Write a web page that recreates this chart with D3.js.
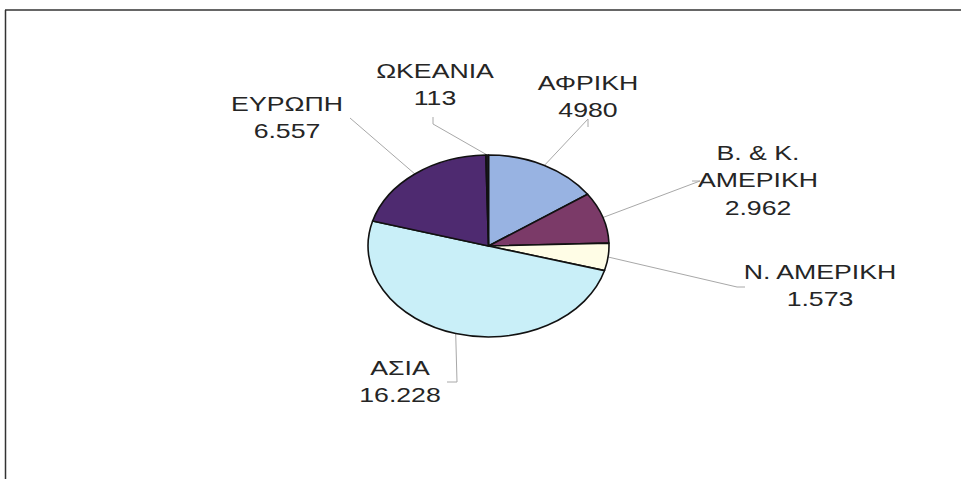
<!DOCTYPE html>
<html>
<head>
<meta charset="utf-8">
<script src="https://cdn.jsdelivr.net/npm/d3@7"></script>
<style>
  html, body { margin: 0; padding: 0; background: #fff; }
  svg { display: block; }
  text { font-family: "Liberation Sans", Arial, sans-serif; font-size: 21px; fill: #252525; }
</style>
</head>
<body>
<svg id="chart" width="961" height="479"></svg>
<script>
// ---- data ----
const categories = [
  ["ΑΦΡΙΚΗ"],
  ["Β. & Κ.", "ΑΜΕΡΙΚΗ"],
  ["Ν. ΑΜΕΡΙΚΗ"],
  ["ΑΣΙΑ"],
  ["ΕΥΡΩΠΗ"],
  ["ΩΚΕΑΝΙΑ"]
];
const values = [4980, 2962, 1573, 16228, 6557, 113];
const valueLabels = ["4980", "2.962", "1.573", "16.228", "6.557", "113"];
const colors = ["#98b3e2", "#7b3a68", "#fffde6", "#c9eff8", "#4e2a70", "#1c1a24"];

// ---- layout ----
const W = 961, H = 479;
const cx = 488.5, cy = 246, rx = 120.5, ry = 91;
const textScaleX = 1.27;
const lineH = 27.5;
// label anchor (center x, first baseline y) and leader elbow points
const labelLayout = [
  { x: 588, y: 90,  leader: [[588, 119], [588, 127]] },
  { x: 758, y: 160, leader: [[700, 181], [692, 181]] },
  { x: 820, y: 279, leader: [[737, 287], [745, 287]] },
  { x: 400, y: 375, leader: [[457, 382], [447, 382]] },
  { x: 287, y: 111, leader: [[350, 118]] },
  { x: 435, y: 78,  leader: [[433, 124], [433, 117]] }
];

const svg = d3.select("#chart");

// frame
svg.append("line").attr("x1", 5).attr("y1", 10).attr("x2", W).attr("y2", 10)
  .attr("stroke", "#333").attr("stroke-width", 1.5);
svg.append("line").attr("x1", 5.5).attr("y1", 10).attr("x2", 5.5).attr("y2", H)
  .attr("stroke", "#333").attr("stroke-width", 1.5);

const pie = d3.pie().sort(null).value(d => d);
const arcs = pie(values);
const arc = d3.arc().innerRadius(0).outerRadius(ry);

// leader lines
const edgePoint = a => [cx + rx * Math.sin(a), cy - ry * Math.cos(a)];
arcs.forEach((d, i) => {
  const mid = (d.startAngle + d.endAngle) / 2;
  const pts = [edgePoint(mid), ...labelLayout[i].leader];
  svg.append("path")
    .attr("d", d3.line()(pts))
    .attr("fill", "none")
    .attr("stroke", "#a8a8a8")
    .attr("stroke-width", 1);
});

// pie (stretched horizontally)
const g = svg.append("g")
  .attr("transform", `translate(${cx},${cy}) scale(${rx / ry},1)`);
g.selectAll("path.slice")
  .data(arcs)
  .join("path")
  .attr("class", "slice")
  .attr("d", arc)
  .attr("fill", (d, i) => colors[i])
  .attr("stroke", "#111")
  .attr("stroke-width", 1.6)
  .attr("vector-effect", "non-scaling-stroke")
  .attr("stroke-linejoin", "round");

// labels
categories.forEach((lines, i) => {
  const L = labelLayout[i];
  const t = svg.append("text")
    .attr("text-anchor", "middle")
    .attr("transform", `translate(${L.x},${L.y}) scale(${textScaleX},1)`);
  const all = [...lines, valueLabels[i]];
  all.forEach((s, k) => {
    t.append("tspan").attr("x", 0).attr("y", k * lineH).text(s);
  });
});
</script>
</body>
</html>
